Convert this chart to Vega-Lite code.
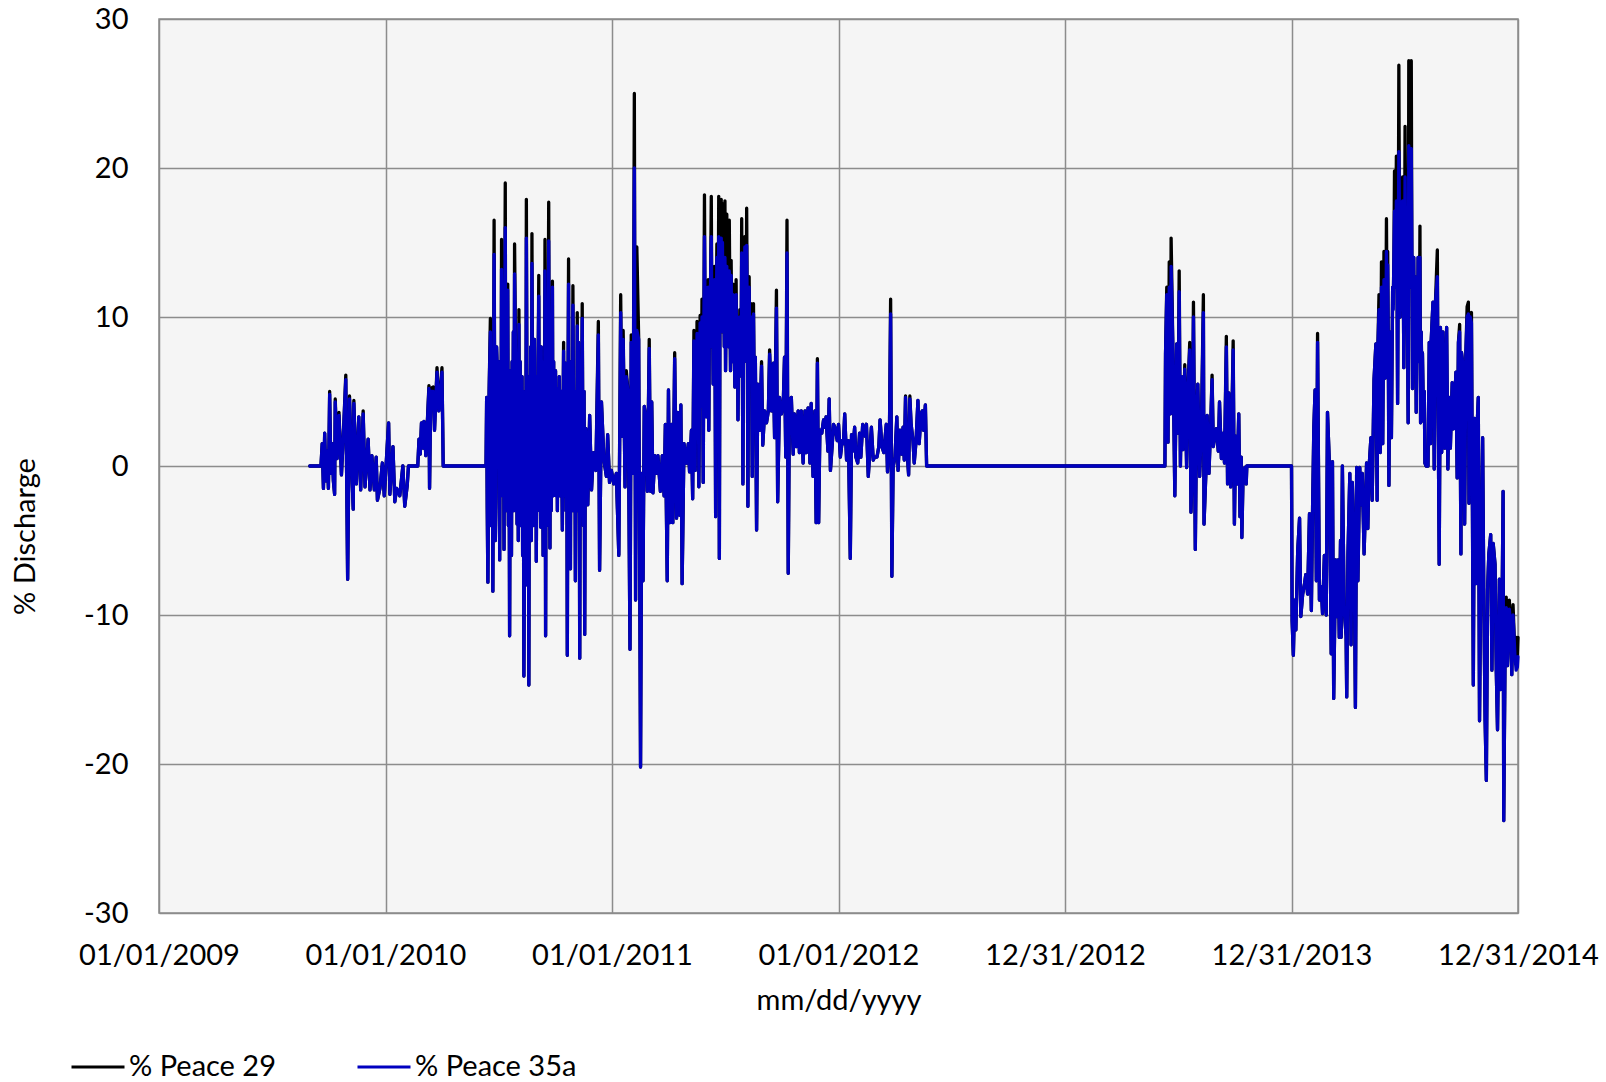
{
"$schema":"https://vega.github.io/schema/vega-lite/v6.json",
"width":1359,"height":894,
"autosize":{"type":"none"},
"padding":{"left":159,"top":19,"right":88,"bottom":169},
"background":"white",
"config":{
"view":{"fill":"#F5F5F5","stroke":"#8C8C8C","strokeWidth":1.5},
"axis":{"labelFont":"Lato","titleFont":"Lato","labelFontSize":29,"titleFontSize":29,"labelColor":"#000000","titleColor":"#000000","titleFontWeight":"normal","gridColor":"#8C8C8C","gridWidth":1.5,"gridOpacity":1,"domain":false,"ticks":false,"tickSize":0,"labelFlush":false,"labelOverlap":false,"labelBound":false},
"legend":{"labelFont":"Lato","labelFontSize":29,"labelColor":"#000000","labelLimit":0}
},
"data":{"values":[
{"date":"2009-09-01","p29":0,"p35a":0},
{"date":"2009-09-19","p29":0,"p35a":0},
{"date":"2009-09-21","p29":1.5,"p35a":1.5},
{"date":"2009-09-23","p29":-1.5,"p35a":-1.5},
{"date":"2009-09-25","p29":2.2,"p35a":2.2},
{"date":"2009-09-27","p29":-1.0,"p35a":-1.0},
{"date":"2009-09-29","p29":1.0,"p35a":1.0},
{"date":"2009-10-01","p29":-1.5,"p35a":-1.5},
{"date":"2009-10-03","p29":5.0,"p35a":4.8},
{"date":"2009-10-05","p29":-0.5,"p35a":-0.5},
{"date":"2009-10-07","p29":1.5,"p35a":1.5},
{"date":"2009-10-09","p29":-1.0,"p35a":-1.0},
{"date":"2009-10-11","p29":-1.9,"p35a":-1.9},
{"date":"2009-10-12","p29":4.5,"p35a":4.3},
{"date":"2009-10-15","p29":0.5,"p35a":0.5},
{"date":"2009-10-18","p29":3.6,"p35a":3.4},
{"date":"2009-10-22","p29":-0.6,"p35a":-0.6},
{"date":"2009-10-25","p29":2.0,"p35a":2.0},
{"date":"2009-10-29","p29":6.1,"p35a":5.8},
{"date":"2009-10-30","p29":1.0,"p35a":1.0},
{"date":"2009-11-01","p29":-7.6,"p35a":-7.6},
{"date":"2009-11-04","p29":4.7,"p35a":4.5},
{"date":"2009-11-07","p29":0.5,"p35a":0.5},
{"date":"2009-11-10","p29":-2.9,"p35a":-2.9},
{"date":"2009-11-11","p29":4.4,"p35a":4.2},
{"date":"2009-11-15","p29":-1.2,"p35a":-1.2},
{"date":"2009-11-19","p29":3.3,"p35a":3.3},
{"date":"2009-11-22","p29":-1.6,"p35a":-1.6},
{"date":"2009-11-26","p29":3.7,"p35a":3.5},
{"date":"2009-11-29","p29":-1.4,"p35a":-1.4},
{"date":"2009-12-04","p29":1.8,"p35a":1.8},
{"date":"2009-12-07","p29":-1.6,"p35a":-1.6},
{"date":"2009-12-10","p29":0.7,"p35a":0.7},
{"date":"2009-12-14","p29":-1.6,"p35a":-1.6},
{"date":"2009-12-17","p29":0.6,"p35a":0.6},
{"date":"2009-12-19","p29":-2.3,"p35a":-2.3},
{"date":"2009-12-23","p29":-1.5,"p35a":-1.5},
{"date":"2009-12-27","p29":0.2,"p35a":0.2},
{"date":"2009-12-30","p29":-2.0,"p35a":-2.0},
{"date":"2010-01-06","p29":2.9,"p35a":2.9},
{"date":"2010-01-08","p29":-1.9,"p35a":-1.9},
{"date":"2010-01-13","p29":1.3,"p35a":1.3},
{"date":"2010-01-16","p29":-2.4,"p35a":-2.4},
{"date":"2010-01-19","p29":-1.5,"p35a":-1.5},
{"date":"2010-01-24","p29":-2.0,"p35a":-2.0},
{"date":"2010-01-29","p29":0.0,"p35a":0.0},
{"date":"2010-02-01","p29":-2.7,"p35a":-2.7},
{"date":"2010-02-05","p29":-1.3,"p35a":-1.3},
{"date":"2010-02-07","p29":0,"p35a":0},
{"date":"2010-02-22","p29":0,"p35a":0},
{"date":"2010-02-24","p29":1.8,"p35a":1.8},
{"date":"2010-02-26","p29":0.8,"p35a":0.8},
{"date":"2010-02-28","p29":2.9,"p35a":2.9},
{"date":"2010-03-03","p29":1.2,"p35a":1.2},
{"date":"2010-03-04","p29":3.0,"p35a":3.0},
{"date":"2010-03-07","p29":0.7,"p35a":0.7},
{"date":"2010-03-12","p29":5.4,"p35a":5.2},
{"date":"2010-03-13","p29":-1.5,"p35a":-1.5},
{"date":"2010-03-15","p29":5.2,"p35a":5.0},
{"date":"2010-03-19","p29":5.3,"p35a":5.0},
{"date":"2010-03-21","p29":2.4,"p35a":2.4},
{"date":"2010-03-25","p29":6.6,"p35a":6.3},
{"date":"2010-03-28","p29":3.7,"p35a":3.7},
{"date":"2010-04-02","p29":6.6,"p35a":6.3},
{"date":"2010-04-04","p29":0,"p35a":0},
{"date":"2010-06-12","p29":0,"p35a":0},
{"date":"2010-06-13","p29":4.6,"p35a":4.6},
{"date":"2010-06-14","p29":-3,"p35a":-3},
{"date":"2010-06-15","p29":-7.8,"p35a":-7.8},
{"date":"2010-06-17","p29":5,"p35a":5},
{"date":"2010-06-19","p29":9.9,"p35a":9.0},
{"date":"2010-06-20","p29":-4,"p35a":-4},
{"date":"2010-06-21","p29":2.0,"p35a":2.0},
{"date":"2010-06-22","p29":6,"p35a":6},
{"date":"2010-06-23","p29":-8.4,"p35a":-8.4},
{"date":"2010-06-24","p29":3,"p35a":3},
{"date":"2010-06-25","p29":16.5,"p35a":14.2},
{"date":"2010-06-26","p29":4,"p35a":4},
{"date":"2010-06-27","p29":-5,"p35a":-5},
{"date":"2010-06-28","p29":-2.0,"p35a":-2.0},
{"date":"2010-06-29","p29":8,"p35a":8},
{"date":"2010-06-30","p29":6.6,"p35a":6.6},
{"date":"2010-07-02","p29":3,"p35a":3},
{"date":"2010-07-03","p29":7,"p35a":7},
{"date":"2010-07-04","p29":-6.3,"p35a":-6.3},
{"date":"2010-07-05","p29":6,"p35a":6},
{"date":"2010-07-06","p29":-2,"p35a":-2},
{"date":"2010-07-07","p29":15.2,"p35a":13.2},
{"date":"2010-07-08","p29":5,"p35a":5},
{"date":"2010-07-09","p29":2.0,"p35a":2.0},
{"date":"2010-07-10","p29":8,"p35a":8},
{"date":"2010-07-11","p29":-5.6,"p35a":-5.6},
{"date":"2010-07-12","p29":9,"p35a":9},
{"date":"2010-07-13","p29":19.0,"p35a":16.0},
{"date":"2010-07-14","p29":-3,"p35a":-3},
{"date":"2010-07-15","p29":4.0,"p35a":4.0},
{"date":"2010-07-16","p29":8,"p35a":8},
{"date":"2010-07-17","p29":12.2,"p35a":11.8},
{"date":"2010-07-18","p29":-4,"p35a":-4},
{"date":"2010-07-19","p29":5,"p35a":5},
{"date":"2010-07-20","p29":-11.4,"p35a":-11.4},
{"date":"2010-07-21","p29":3,"p35a":3},
{"date":"2010-07-22","p29":6.4,"p35a":6.4},
{"date":"2010-07-23","p29":-6,"p35a":-6},
{"date":"2010-07-24","p29":7,"p35a":7},
{"date":"2010-07-25","p29":-2.0,"p35a":-2.0},
{"date":"2010-07-26","p29":9,"p35a":9},
{"date":"2010-07-27","p29":-3,"p35a":-3},
{"date":"2010-07-28","p29":14.9,"p35a":12.9},
{"date":"2010-07-30","p29":6,"p35a":6},
{"date":"2010-07-31","p29":2,"p35a":2},
{"date":"2010-08-01","p29":-3.9,"p35a":-3.9},
{"date":"2010-08-02","p29":7,"p35a":7},
{"date":"2010-08-03","p29":-5,"p35a":-5},
{"date":"2010-08-04","p29":10.5,"p35a":9.5},
{"date":"2010-08-05","p29":-2,"p35a":-2},
{"date":"2010-08-06","p29":7,"p35a":7},
{"date":"2010-08-07","p29":-4,"p35a":-4},
{"date":"2010-08-08","p29":3.2,"p35a":3.2},
{"date":"2010-08-09","p29":6,"p35a":6},
{"date":"2010-08-10","p29":-6,"p35a":-6},
{"date":"2010-08-11","p29":5,"p35a":5},
{"date":"2010-08-12","p29":-14.1,"p35a":-14.1},
{"date":"2010-08-13","p29":-5,"p35a":-5},
{"date":"2010-08-14","p29":2.0,"p35a":2.0},
{"date":"2010-08-15","p29":-6,"p35a":-6},
{"date":"2010-08-16","p29":17.9,"p35a":15.3},
{"date":"2010-08-17","p29":4,"p35a":4},
{"date":"2010-08-18","p29":-8,"p35a":-8},
{"date":"2010-08-19","p29":6,"p35a":6},
{"date":"2010-08-20","p29":-14.7,"p35a":-14.7},
{"date":"2010-08-21","p29":5,"p35a":5},
{"date":"2010-08-22","p29":-3,"p35a":-3},
{"date":"2010-08-23","p29":8,"p35a":8},
{"date":"2010-08-24","p29":-5,"p35a":-5},
{"date":"2010-08-25","p29":15.6,"p35a":13.6},
{"date":"2010-08-26","p29":3,"p35a":3},
{"date":"2010-08-27","p29":-4,"p35a":-4},
{"date":"2010-08-28","p29":6,"p35a":6},
{"date":"2010-08-29","p29":8.5,"p35a":8.5},
{"date":"2010-08-30","p29":-2,"p35a":-2},
{"date":"2010-08-31","p29":6,"p35a":6},
{"date":"2010-09-01","p29":-6.4,"p35a":-6.4},
{"date":"2010-09-02","p29":3,"p35a":3},
{"date":"2010-09-03","p29":-3,"p35a":-3},
{"date":"2010-09-04","p29":7,"p35a":7},
{"date":"2010-09-05","p29":12.8,"p35a":11.4},
{"date":"2010-09-06","p29":-2,"p35a":-2},
{"date":"2010-09-07","p29":6,"p35a":6},
{"date":"2010-09-08","p29":-4.1,"p35a":-4.1},
{"date":"2010-09-09","p29":8,"p35a":8},
{"date":"2010-09-10","p29":-3,"p35a":-3},
{"date":"2010-09-11","p29":4.6,"p35a":4.6},
{"date":"2010-09-12","p29":-6,"p35a":-6},
{"date":"2010-09-13","p29":7,"p35a":7},
{"date":"2010-09-14","p29":-2,"p35a":-2},
{"date":"2010-09-15","p29":15.2,"p35a":13.1},
{"date":"2010-09-16","p29":-11.4,"p35a":-11.4},
{"date":"2010-09-17","p29":6,"p35a":6},
{"date":"2010-09-18","p29":-4,"p35a":-4},
{"date":"2010-09-19","p29":2.0,"p35a":2.0},
{"date":"2010-09-20","p29":8,"p35a":8},
{"date":"2010-09-21","p29":17.7,"p35a":15.1},
{"date":"2010-09-22","p29":3,"p35a":3},
{"date":"2010-09-23","p29":-5.5,"p35a":-5.5},
{"date":"2010-09-24","p29":8,"p35a":8},
{"date":"2010-09-25","p29":-3,"p35a":-3},
{"date":"2010-09-26","p29":5,"p35a":5},
{"date":"2010-09-27","p29":12.4,"p35a":12.0},
{"date":"2010-09-28","p29":-2,"p35a":-2},
{"date":"2010-09-29","p29":7,"p35a":7},
{"date":"2010-09-30","p29":-1.4,"p35a":-1.4},
{"date":"2010-10-01","p29":2,"p35a":2},
{"date":"2010-10-02","p29":6.4,"p35a":6.4},
{"date":"2010-10-03","p29":-2,"p35a":-2},
{"date":"2010-10-04","p29":4,"p35a":4},
{"date":"2010-10-05","p29":-3,"p35a":-3},
{"date":"2010-10-06","p29":5.2,"p35a":5.2},
{"date":"2010-10-07","p29":1,"p35a":1},
{"date":"2010-10-08","p29":6,"p35a":6},
{"date":"2010-10-09","p29":-2,"p35a":-2},
{"date":"2010-10-10","p29":3.6,"p35a":3.6},
{"date":"2010-10-11","p29":5,"p35a":5},
{"date":"2010-10-12","p29":1,"p35a":1},
{"date":"2010-10-13","p29":-4.3,"p35a":-4.3},
{"date":"2010-10-14","p29":3,"p35a":3},
{"date":"2010-10-15","p29":8.3,"p35a":7.7},
{"date":"2010-10-16","p29":-2,"p35a":-2},
{"date":"2010-10-17","p29":4,"p35a":4},
{"date":"2010-10-18","p29":6.9,"p35a":6.9},
{"date":"2010-10-19","p29":-3,"p35a":-3},
{"date":"2010-10-20","p29":5,"p35a":5},
{"date":"2010-10-21","p29":-12.7,"p35a":-12.7},
{"date":"2010-10-22","p29":4,"p35a":4},
{"date":"2010-10-23","p29":13.9,"p35a":12.2},
{"date":"2010-10-24","p29":-2,"p35a":-2},
{"date":"2010-10-25","p29":6,"p35a":6},
{"date":"2010-10-26","p29":-6.9,"p35a":-6.9},
{"date":"2010-10-27","p29":7,"p35a":7},
{"date":"2010-10-28","p29":3.0,"p35a":3.0},
{"date":"2010-10-29","p29":-3,"p35a":-3},
{"date":"2010-10-30","p29":12.1,"p35a":10.8},
{"date":"2010-10-31","p29":4,"p35a":4},
{"date":"2010-11-01","p29":-2,"p35a":-2},
{"date":"2010-11-02","p29":5,"p35a":5},
{"date":"2010-11-03","p29":-7.7,"p35a":-7.7},
{"date":"2010-11-04","p29":2,"p35a":2},
{"date":"2010-11-05","p29":-3,"p35a":-3},
{"date":"2010-11-06","p29":10.3,"p35a":9.4},
{"date":"2010-11-07","p29":-2,"p35a":-2},
{"date":"2010-11-08","p29":8.3,"p35a":8.3},
{"date":"2010-11-09","p29":4,"p35a":4},
{"date":"2010-11-10","p29":-12.9,"p35a":-12.9},
{"date":"2010-11-11","p29":4,"p35a":4},
{"date":"2010-11-12","p29":-3,"p35a":-3},
{"date":"2010-11-13","p29":3,"p35a":3},
{"date":"2010-11-14","p29":10.9,"p35a":9.9},
{"date":"2010-11-15","p29":2,"p35a":2},
{"date":"2010-11-16","p29":-4,"p35a":-4},
{"date":"2010-11-17","p29":5,"p35a":5},
{"date":"2010-11-18","p29":-11.3,"p35a":-11.3},
{"date":"2010-11-19","p29":1,"p35a":1},
{"date":"2010-11-20","p29":2.5,"p35a":2.5},
{"date":"2010-11-23","p29":-2.6,"p35a":-2.6},
{"date":"2010-11-26","p29":3.4,"p35a":3.4},
{"date":"2010-11-29","p29":-1.6,"p35a":-1.6},
{"date":"2010-12-02","p29":0.9,"p35a":0.9},
{"date":"2010-12-06","p29":-0.3,"p35a":-0.3},
{"date":"2010-12-10","p29":9.7,"p35a":8.8},
{"date":"2010-12-12","p29":-7.0,"p35a":-7.0},
{"date":"2010-12-15","p29":4.3,"p35a":4.3},
{"date":"2010-12-19","p29":0.4,"p35a":0.4},
{"date":"2010-12-23","p29":-0.7,"p35a":-0.7},
{"date":"2010-12-25","p29":2.1,"p35a":2.1},
{"date":"2010-12-28","p29":-1.1,"p35a":-1.1},
{"date":"2010-12-31","p29":-0.3,"p35a":-0.3},
{"date":"2011-01-04","p29":-1.2,"p35a":-1.2},
{"date":"2011-01-08","p29":-0.5,"p35a":-0.5},
{"date":"2011-01-12","p29":-6.0,"p35a":-6.0},
{"date":"2011-01-15","p29":11.5,"p35a":10.3},
{"date":"2011-01-17","p29":2.0,"p35a":2.0},
{"date":"2011-01-19","p29":9.1,"p35a":8.5},
{"date":"2011-01-22","p29":-1.4,"p35a":-1.4},
{"date":"2011-01-24","p29":6.4,"p35a":6.0},
{"date":"2011-01-27","p29":4.9,"p35a":4.9},
{"date":"2011-01-30","p29":-12.3,"p35a":-12.3},
{"date":"2011-02-01","p29":8.8,"p35a":8.3},
{"date":"2011-02-04","p29":-0.5,"p35a":-0.5},
{"date":"2011-02-06","p29":25.0,"p35a":20.0},
{"date":"2011-02-08","p29":-9.0,"p35a":-9.0},
{"date":"2011-02-10","p29":14.7,"p35a":9.1},
{"date":"2011-02-13","p29":8.5,"p35a":8.5},
{"date":"2011-02-16","p29":-20.2,"p35a":-20.2},
{"date":"2011-02-18","p29":-0.5,"p35a":-0.5},
{"date":"2011-02-20","p29":-7.7,"p35a":-7.7},
{"date":"2011-02-22","p29":4.0,"p35a":4.0},
{"date":"2011-02-25","p29":3.1,"p35a":3.1},
{"date":"2011-02-27","p29":-1.7,"p35a":-1.7},
{"date":"2011-03-02","p29":8.5,"p35a":7.9},
{"date":"2011-03-04","p29":-1.7,"p35a":-1.7},
{"date":"2011-03-06","p29":4.3,"p35a":4.3},
{"date":"2011-03-08","p29":-1.8,"p35a":-1.8},
{"date":"2011-03-11","p29":0.7,"p35a":0.7},
{"date":"2011-03-14","p29":-0.5,"p35a":-0.5},
{"date":"2011-03-16","p29":0.7,"p35a":0.7},
{"date":"2011-03-20","p29":-1.7,"p35a":-1.7},
{"date":"2011-03-23","p29":0.7,"p35a":0.7},
{"date":"2011-03-26","p29":-2.0,"p35a":-2.0},
{"date":"2011-03-28","p29":2.8,"p35a":2.8},
{"date":"2011-03-31","p29":-7.7,"p35a":-7.7},
{"date":"2011-04-02","p29":5.1,"p35a":5.1},
{"date":"2011-04-04","p29":-3.8,"p35a":-3.8},
{"date":"2011-04-07","p29":2.8,"p35a":2.8},
{"date":"2011-04-09","p29":-3.8,"p35a":-3.8},
{"date":"2011-04-12","p29":7.6,"p35a":7.2},
{"date":"2011-04-15","p29":-3.5,"p35a":-3.5},
{"date":"2011-04-17","p29":3.6,"p35a":3.6},
{"date":"2011-04-20","p29":-3.3,"p35a":-3.3},
{"date":"2011-04-22","p29":4.1,"p35a":4.1},
{"date":"2011-04-24","p29":-7.9,"p35a":-7.9},
{"date":"2011-04-27","p29":1.5,"p35a":1.5},
{"date":"2011-05-01","p29":0.2,"p35a":0.2},
{"date":"2011-05-04","p29":1.5,"p35a":1.5},
{"date":"2011-05-06","p29":-0.4,"p35a":-0.4},
{"date":"2011-05-09","p29":2.4,"p35a":2.4},
{"date":"2011-05-11","p29":-2.2,"p35a":-2.2},
{"date":"2011-05-13","p29":9.1,"p35a":8.4},
{"date":"2011-05-14","p29":5,"p35a":5},
{"date":"2011-05-15","p29":-0.3,"p35a":-0.3},
{"date":"2011-05-16","p29":7,"p35a":7},
{"date":"2011-05-17","p29":3,"p35a":3},
{"date":"2011-05-18","p29":9.7,"p35a":8.9},
{"date":"2011-05-19","p29":6,"p35a":6},
{"date":"2011-05-20","p29":8,"p35a":8},
{"date":"2011-05-21","p29":-1.4,"p35a":-1.4},
{"date":"2011-05-22","p29":5,"p35a":5},
{"date":"2011-05-23","p29":10.1,"p35a":9.6},
{"date":"2011-05-24","p29":7,"p35a":7},
{"date":"2011-05-25","p29":4,"p35a":4},
{"date":"2011-05-26","p29":11.2,"p35a":10.0},
{"date":"2011-05-27","p29":8,"p35a":8},
{"date":"2011-05-28","p29":-1.1,"p35a":-1.1},
{"date":"2011-05-29","p29":9,"p35a":9},
{"date":"2011-05-30","p29":18.2,"p35a":15.4},
{"date":"2011-05-31","p29":10,"p35a":10},
{"date":"2011-06-01","p29":12,"p35a":12},
{"date":"2011-06-02","p29":3.3,"p35a":3.3},
{"date":"2011-06-03","p29":9,"p35a":9},
{"date":"2011-06-04","p29":7,"p35a":7},
{"date":"2011-06-05","p29":12.5,"p35a":12.0},
{"date":"2011-06-06","p29":2.4,"p35a":2.4},
{"date":"2011-06-07","p29":10,"p35a":10},
{"date":"2011-06-08","p29":8,"p35a":8},
{"date":"2011-06-09","p29":13,"p35a":13},
{"date":"2011-06-10","p29":18.1,"p35a":15.4},
{"date":"2011-06-11","p29":9,"p35a":9},
{"date":"2011-06-12","p29":12,"p35a":12},
{"date":"2011-06-13","p29":5.5,"p35a":5.5},
{"date":"2011-06-14","p29":9,"p35a":9},
{"date":"2011-06-15","p29":13.4,"p35a":12.5},
{"date":"2011-06-16","p29":8,"p35a":8},
{"date":"2011-06-17","p29":-3.4,"p35a":-3.4},
{"date":"2011-06-18","p29":10,"p35a":10},
{"date":"2011-06-19","p29":14.9,"p35a":14.0},
{"date":"2011-06-20","p29":11,"p35a":11},
{"date":"2011-06-21","p29":9,"p35a":9},
{"date":"2011-06-22","p29":18.1,"p35a":15.4},
{"date":"2011-06-23","p29":-6.2,"p35a":-6.2},
{"date":"2011-06-24","p29":11,"p35a":11},
{"date":"2011-06-25","p29":9,"p35a":9},
{"date":"2011-06-26","p29":17.9,"p35a":15.3},
{"date":"2011-06-27","p29":10,"p35a":10},
{"date":"2011-06-28","p29":17.6,"p35a":15.0},
{"date":"2011-06-29","p29":9,"p35a":9},
{"date":"2011-06-30","p29":12,"p35a":12},
{"date":"2011-07-01","p29":8,"p35a":8},
{"date":"2011-07-02","p29":17.8,"p35a":14.0},
{"date":"2011-07-03","p29":6.4,"p35a":6.4},
{"date":"2011-07-04","p29":11,"p35a":11},
{"date":"2011-07-05","p29":16.9,"p35a":13.4},
{"date":"2011-07-06","p29":9,"p35a":9},
{"date":"2011-07-07","p29":12,"p35a":12},
{"date":"2011-07-08","p29":8,"p35a":8},
{"date":"2011-07-09","p29":16.5,"p35a":13.1},
{"date":"2011-07-10","p29":11,"p35a":11},
{"date":"2011-07-11","p29":6.4,"p35a":6.4},
{"date":"2011-07-12","p29":13.8,"p35a":12.8},
{"date":"2011-07-13","p29":9,"p35a":9},
{"date":"2011-07-14","p29":7,"p35a":7},
{"date":"2011-07-15","p29":12.2,"p35a":11.5},
{"date":"2011-07-16","p29":10,"p35a":10},
{"date":"2011-07-17","p29":8,"p35a":8},
{"date":"2011-07-18","p29":5.3,"p35a":5.3},
{"date":"2011-07-19","p29":9,"p35a":9},
{"date":"2011-07-20","p29":12.5,"p35a":11.5},
{"date":"2011-07-21","p29":7,"p35a":7},
{"date":"2011-07-22","p29":10,"p35a":10},
{"date":"2011-07-23","p29":3.1,"p35a":3.1},
{"date":"2011-07-24","p29":8,"p35a":8},
{"date":"2011-07-25","p29":6,"p35a":6},
{"date":"2011-07-26","p29":10.5,"p35a":10.0},
{"date":"2011-07-27","p29":9,"p35a":9},
{"date":"2011-07-28","p29":7,"p35a":7},
{"date":"2011-07-29","p29":16.6,"p35a":14.3},
{"date":"2011-07-30","p29":8,"p35a":8},
{"date":"2011-07-31","p29":-1.2,"p35a":-1.2},
{"date":"2011-08-01","p29":10,"p35a":10},
{"date":"2011-08-02","p29":7,"p35a":7},
{"date":"2011-08-03","p29":15.4,"p35a":14.7},
{"date":"2011-08-04","p29":9,"p35a":9},
{"date":"2011-08-05","p29":8,"p35a":8},
{"date":"2011-08-06","p29":17.3,"p35a":14.8},
{"date":"2011-08-07","p29":10,"p35a":10},
{"date":"2011-08-08","p29":-2.7,"p35a":-2.7},
{"date":"2011-08-09","p29":7,"p35a":7},
{"date":"2011-08-10","p29":12.7,"p35a":12.0},
{"date":"2011-08-11","p29":8,"p35a":8},
{"date":"2011-08-12","p29":6,"p35a":6},
{"date":"2011-08-13","p29":10.9,"p35a":10.0},
{"date":"2011-08-14","p29":7,"p35a":7},
{"date":"2011-08-15","p29":-0.7,"p35a":-0.7},
{"date":"2011-08-16","p29":5,"p35a":5},
{"date":"2011-08-17","p29":10.9,"p35a":10.2},
{"date":"2011-08-18","p29":6,"p35a":6},
{"date":"2011-08-19","p29":4,"p35a":4},
{"date":"2011-08-20","p29":7.3,"p35a":7.3},
{"date":"2011-08-22","p29":-4.3,"p35a":-4.3},
{"date":"2011-08-24","p29":5.5,"p35a":5.5},
{"date":"2011-08-27","p29":2.4,"p35a":2.4},
{"date":"2011-08-30","p29":7.0,"p35a":6.7},
{"date":"2011-09-01","p29":1.4,"p35a":1.4},
{"date":"2011-09-04","p29":3.7,"p35a":3.7},
{"date":"2011-09-07","p29":2.9,"p35a":2.9},
{"date":"2011-09-10","p29":3.7,"p35a":3.7},
{"date":"2011-09-12","p29":7.8,"p35a":7.5},
{"date":"2011-09-15","p29":3.7,"p35a":3.7},
{"date":"2011-09-18","p29":6.9,"p35a":6.9},
{"date":"2011-09-20","p29":1.9,"p35a":1.9},
{"date":"2011-09-23","p29":11.8,"p35a":10.6},
{"date":"2011-09-25","p29":-2.4,"p35a":-2.4},
{"date":"2011-09-28","p29":4.6,"p35a":4.6},
{"date":"2011-10-01","p29":3.5,"p35a":3.5},
{"date":"2011-10-04","p29":4.2,"p35a":4.2},
{"date":"2011-10-06","p29":7.3,"p35a":7.3},
{"date":"2011-10-08","p29":0.6,"p35a":0.6},
{"date":"2011-10-10","p29":16.5,"p35a":14.3},
{"date":"2011-10-12","p29":-7.2,"p35a":-7.2},
{"date":"2011-10-14","p29":4.4,"p35a":4.4},
{"date":"2011-10-17","p29":4.6,"p35a":4.6},
{"date":"2011-10-20","p29":0.8,"p35a":0.8},
{"date":"2011-10-22","p29":3.5,"p35a":3.5},
{"date":"2011-10-25","p29":1.3,"p35a":1.3},
{"date":"2011-10-28","p29":3.7,"p35a":3.7},
{"date":"2011-10-30","p29":0.9,"p35a":0.9},
{"date":"2011-11-02","p29":3.7,"p35a":3.7},
{"date":"2011-11-05","p29":0.2,"p35a":0.2},
{"date":"2011-11-08","p29":3.7,"p35a":3.7},
{"date":"2011-11-10","p29":0.9,"p35a":0.9},
{"date":"2011-11-13","p29":3.9,"p35a":3.9},
{"date":"2011-11-16","p29":0.2,"p35a":0.2},
{"date":"2011-11-18","p29":4.2,"p35a":4.2},
{"date":"2011-11-21","p29":-0.7,"p35a":-0.7},
{"date":"2011-11-24","p29":3.7,"p35a":3.7},
{"date":"2011-11-26","p29":-3.8,"p35a":-3.8},
{"date":"2011-11-28","p29":7.2,"p35a":6.9},
{"date":"2011-11-30","p29":-3.8,"p35a":-3.8},
{"date":"2011-12-02","p29":2.4,"p35a":2.4},
{"date":"2011-12-05","p29":2.2,"p35a":2.2},
{"date":"2011-12-08","p29":3.1,"p35a":3.1},
{"date":"2011-12-10","p29":2.6,"p35a":2.6},
{"date":"2011-12-12","p29":3.3,"p35a":3.3},
{"date":"2011-12-15","p29":1.0,"p35a":1.0},
{"date":"2011-12-17","p29":4.5,"p35a":4.5},
{"date":"2011-12-19","p29":-0.3,"p35a":-0.3},
{"date":"2011-12-22","p29":1.5,"p35a":1.5},
{"date":"2011-12-24","p29":2.8,"p35a":2.8},
{"date":"2011-12-27","p29":2.5,"p35a":2.5},
{"date":"2011-12-30","p29":1.7,"p35a":1.7},
{"date":"2012-01-01","p29":2.8,"p35a":2.8},
{"date":"2012-01-04","p29":0.6,"p35a":0.6},
{"date":"2012-01-07","p29":1.7,"p35a":1.7},
{"date":"2012-01-09","p29":1.5,"p35a":1.5},
{"date":"2012-01-11","p29":3.5,"p35a":3.5},
{"date":"2012-01-14","p29":0.4,"p35a":0.4},
{"date":"2012-01-17","p29":1.7,"p35a":1.7},
{"date":"2012-01-20","p29":-6.2,"p35a":-6.2},
{"date":"2012-01-22","p29":2.1,"p35a":2.1},
{"date":"2012-01-24","p29":1.0,"p35a":1.0},
{"date":"2012-01-27","p29":2.6,"p35a":2.6},
{"date":"2012-01-29","p29":0.6,"p35a":0.6},
{"date":"2012-02-01","p29":0.2,"p35a":0.2},
{"date":"2012-02-04","p29":2.2,"p35a":2.2},
{"date":"2012-02-06","p29":0.6,"p35a":0.6},
{"date":"2012-02-09","p29":2.8,"p35a":2.8},
{"date":"2012-02-13","p29":2.0,"p35a":2.0},
{"date":"2012-02-15","p29":2.8,"p35a":2.8},
{"date":"2012-02-18","p29":-0.7,"p35a":-0.7},
{"date":"2012-02-21","p29":1.3,"p35a":1.3},
{"date":"2012-02-23","p29":2.6,"p35a":2.6},
{"date":"2012-02-26","p29":0.4,"p35a":0.4},
{"date":"2012-02-28","p29":0.6,"p35a":0.6},
{"date":"2012-03-03","p29":0.6,"p35a":0.6},
{"date":"2012-03-06","p29":1.3,"p35a":1.3},
{"date":"2012-03-08","p29":3.1,"p35a":3.1},
{"date":"2012-03-11","p29":1.3,"p35a":1.3},
{"date":"2012-03-14","p29":0.9,"p35a":0.9},
{"date":"2012-03-18","p29":2.8,"p35a":2.8},
{"date":"2012-03-20","p29":-0.4,"p35a":-0.4},
{"date":"2012-03-23","p29":1.8,"p35a":1.8},
{"date":"2012-03-25","p29":11.2,"p35a":10.2},
{"date":"2012-03-27","p29":-7.4,"p35a":-7.4},
{"date":"2012-03-29","p29":-0.1,"p35a":-0.1},
{"date":"2012-04-01","p29":0.6,"p35a":0.6},
{"date":"2012-04-04","p29":3.3,"p35a":3.3},
{"date":"2012-04-06","p29":-0.3,"p35a":-0.3},
{"date":"2012-04-09","p29":2.4,"p35a":2.4},
{"date":"2012-04-12","p29":0.8,"p35a":0.8},
{"date":"2012-04-14","p29":2.6,"p35a":2.6},
{"date":"2012-04-16","p29":0.4,"p35a":0.4},
{"date":"2012-04-18","p29":4.7,"p35a":4.6},
{"date":"2012-04-20","p29":1.3,"p35a":1.3},
{"date":"2012-04-23","p29":-0.6,"p35a":-0.6},
{"date":"2012-04-25","p29":4.7,"p35a":4.5},
{"date":"2012-04-27","p29":2.8,"p35a":2.8},
{"date":"2012-04-30","p29":1.7,"p35a":1.7},
{"date":"2012-05-02","p29":0.2,"p35a":0.2},
{"date":"2012-05-05","p29":1.7,"p35a":1.7},
{"date":"2012-05-08","p29":4.4,"p35a":4.4},
{"date":"2012-05-10","p29":1.5,"p35a":1.5},
{"date":"2012-05-13","p29":3.5,"p35a":3.5},
{"date":"2012-05-15","p29":3.7,"p35a":3.7},
{"date":"2012-05-17","p29":2.4,"p35a":2.4},
{"date":"2012-05-20","p29":4.1,"p35a":4.1},
{"date":"2012-05-22","p29":0,"p35a":0},
{"date":"2013-06-10","p29":0,"p35a":0},
{"date":"2013-06-11","p29":7.5,"p35a":7.5},
{"date":"2013-06-13","p29":12.0,"p35a":11.5},
{"date":"2013-06-15","p29":1.6,"p35a":1.6},
{"date":"2013-06-17","p29":13.7,"p35a":12.0},
{"date":"2013-06-19","p29":3.5,"p35a":3.5},
{"date":"2013-06-20","p29":15.3,"p35a":13.4},
{"date":"2013-06-23","p29":7.5,"p35a":7.5},
{"date":"2013-06-26","p29":-2.0,"p35a":-2.0},
{"date":"2013-06-29","p29":8.2,"p35a":8.2},
{"date":"2013-07-01","p29":2.2,"p35a":2.2},
{"date":"2013-07-03","p29":13.1,"p35a":11.7},
{"date":"2013-07-05","p29":0.0,"p35a":0.0},
{"date":"2013-07-07","p29":6.0,"p35a":6.0},
{"date":"2013-07-09","p29":1.1,"p35a":1.1},
{"date":"2013-07-12","p29":6.8,"p35a":6.5},
{"date":"2013-07-15","p29":-0.1,"p35a":-0.1},
{"date":"2013-07-17","p29":4.9,"p35a":4.9},
{"date":"2013-07-20","p29":8.3,"p35a":7.8},
{"date":"2013-07-22","p29":-3.1,"p35a":-3.1},
{"date":"2013-07-24","p29":-0.1,"p35a":-0.1},
{"date":"2013-07-26","p29":11.0,"p35a":10.0},
{"date":"2013-07-29","p29":-5.6,"p35a":-5.6},
{"date":"2013-07-31","p29":3.1,"p35a":3.1},
{"date":"2013-08-02","p29":5.5,"p35a":5.5},
{"date":"2013-08-05","p29":-0.7,"p35a":-0.7},
{"date":"2013-08-08","p29":3.1,"p35a":3.1},
{"date":"2013-08-11","p29":11.5,"p35a":10.3},
{"date":"2013-08-12","p29":-3.9,"p35a":-3.9},
{"date":"2013-08-15","p29":-0.5,"p35a":-0.5},
{"date":"2013-08-17","p29":3.4,"p35a":3.4},
{"date":"2013-08-20","p29":-0.5,"p35a":-0.5},
{"date":"2013-08-23","p29":3.1,"p35a":3.1},
{"date":"2013-08-25","p29":6.1,"p35a":5.8},
{"date":"2013-08-27","p29":1.3,"p35a":1.3},
{"date":"2013-08-30","p29":2.2,"p35a":2.2},
{"date":"2013-09-01","p29":2.5,"p35a":2.5},
{"date":"2013-09-04","p29":1.0,"p35a":1.0},
{"date":"2013-09-06","p29":4.3,"p35a":4.3},
{"date":"2013-09-09","p29":0.5,"p35a":0.5},
{"date":"2013-09-12","p29":2.2,"p35a":2.2},
{"date":"2013-09-14","p29":0.2,"p35a":0.2},
{"date":"2013-09-17","p29":8.7,"p35a":8.0},
{"date":"2013-09-19","p29":-1.2,"p35a":-1.2},
{"date":"2013-09-21","p29":4.9,"p35a":4.9},
{"date":"2013-09-24","p29":-1.4,"p35a":-1.4},
{"date":"2013-09-28","p29":8.4,"p35a":7.8},
{"date":"2013-09-30","p29":-3.9,"p35a":-3.9},
{"date":"2013-10-02","p29":2.0,"p35a":2.0},
{"date":"2013-10-04","p29":-1.2,"p35a":-1.2},
{"date":"2013-10-07","p29":3.5,"p35a":3.5},
{"date":"2013-10-09","p29":-3.4,"p35a":-3.4},
{"date":"2013-10-11","p29":0.6,"p35a":0.6},
{"date":"2013-10-12","p29":-4.8,"p35a":-4.8},
{"date":"2013-10-14","p29":-0.5,"p35a":-0.5},
{"date":"2013-10-17","p29":-0.1,"p35a":-0.1},
{"date":"2013-10-19","p29":-1.2,"p35a":-1.2},
{"date":"2013-10-20","p29":0,"p35a":0},
{"date":"2013-12-31","p29":0,"p35a":0},
{"date":"2014-01-01","p29":-10.4,"p35a":-10.4},
{"date":"2014-01-03","p29":-12.7,"p35a":-12.7},
{"date":"2014-01-05","p29":-9.0,"p35a":-9.0},
{"date":"2014-01-07","p29":-11.0,"p35a":-11.0},
{"date":"2014-01-10","p29":-5.7,"p35a":-5.7},
{"date":"2014-01-13","p29":-3.5,"p35a":-3.5},
{"date":"2014-01-15","p29":-10.1,"p35a":-10.1},
{"date":"2014-01-18","p29":-8.6,"p35a":-8.6},
{"date":"2014-01-21","p29":-7.9,"p35a":-7.9},
{"date":"2014-01-23","p29":-7.3,"p35a":-7.3},
{"date":"2014-01-26","p29":-8.6,"p35a":-8.6},
{"date":"2014-01-29","p29":-3.2,"p35a":-3.2},
{"date":"2014-02-01","p29":-9.7,"p35a":-9.7},
{"date":"2014-02-03","p29":-2.8,"p35a":-2.8},
{"date":"2014-02-05","p29":2.6,"p35a":2.6},
{"date":"2014-02-07","p29":5.1,"p35a":5.1},
{"date":"2014-02-09","p29":-7.7,"p35a":-7.7},
{"date":"2014-02-11","p29":8.9,"p35a":8.3},
{"date":"2014-02-14","p29":-9.0,"p35a":-9.0},
{"date":"2014-02-17","p29":-8.1,"p35a":-8.1},
{"date":"2014-02-19","p29":-9.9,"p35a":-9.9},
{"date":"2014-02-22","p29":-6.0,"p35a":-6.0},
{"date":"2014-02-25","p29":-10.0,"p35a":-10.0},
{"date":"2014-02-27","p29":3.6,"p35a":3.6},
{"date":"2014-03-02","p29":0.2,"p35a":0.2},
{"date":"2014-03-05","p29":-12.6,"p35a":-12.6},
{"date":"2014-03-07","p29":0.3,"p35a":0.3},
{"date":"2014-03-09","p29":-15.6,"p35a":-15.6},
{"date":"2014-03-12","p29":-6.3,"p35a":-6.3},
{"date":"2014-03-14","p29":-10.1,"p35a":-10.1},
{"date":"2014-03-16","p29":-6.3,"p35a":-6.3},
{"date":"2014-03-18","p29":-11.5,"p35a":-11.5},
{"date":"2014-03-20","p29":-5.0,"p35a":-5.0},
{"date":"2014-03-21","p29":-11.5,"p35a":-11.5},
{"date":"2014-03-23","p29":0.0,"p35a":0.0},
{"date":"2014-03-26","p29":-9.7,"p35a":-9.7},
{"date":"2014-03-29","p29":-11.4,"p35a":-11.4},
{"date":"2014-03-30","p29":-15.5,"p35a":-15.5},
{"date":"2014-04-01","p29":-5.9,"p35a":-5.9},
{"date":"2014-04-04","p29":-0.5,"p35a":-0.5},
{"date":"2014-04-06","p29":-12.0,"p35a":-12.0},
{"date":"2014-04-08","p29":-1.1,"p35a":-1.1},
{"date":"2014-04-11","p29":-5.7,"p35a":-5.7},
{"date":"2014-04-13","p29":-16.2,"p35a":-16.2},
{"date":"2014-04-15","p29":-0.1,"p35a":-0.1},
{"date":"2014-04-17","p29":-7.7,"p35a":-7.7},
{"date":"2014-04-20","p29":-0.1,"p35a":-0.1},
{"date":"2014-04-22","p29":-2.6,"p35a":-2.6},
{"date":"2014-04-24","p29":-0.5,"p35a":-0.5},
{"date":"2014-04-27","p29":-5.9,"p35a":-5.9},
{"date":"2014-05-01","p29":0.2,"p35a":0.2},
{"date":"2014-05-03","p29":-4.2,"p35a":-4.2},
{"date":"2014-05-05","p29":-0.1,"p35a":-0.1},
{"date":"2014-05-08","p29":1.9,"p35a":1.9},
{"date":"2014-05-10","p29":-2.3,"p35a":-2.3},
{"date":"2014-05-13","p29":5.8,"p35a":5.8},
{"date":"2014-05-16","p29":8.2,"p35a":8.2},
{"date":"2014-05-18","p29":-2.3,"p35a":-2.3},
{"date":"2014-05-19","p29":7.6,"p35a":7.6},
{"date":"2014-05-21","p29":11.5,"p35a":10.5},
{"date":"2014-05-23","p29":0.9,"p35a":0.9},
{"date":"2014-05-25","p29":13.7,"p35a":12.0},
{"date":"2014-05-27","p29":1.5,"p35a":1.5},
{"date":"2014-05-29","p29":14.4,"p35a":12.5},
{"date":"2014-05-31","p29":5.9,"p35a":5.9},
{"date":"2014-06-01","p29":9,"p35a":9},
{"date":"2014-06-02","p29":16.6,"p35a":14.4},
{"date":"2014-06-03","p29":10,"p35a":10},
{"date":"2014-06-04","p29":14.4,"p35a":13.5},
{"date":"2014-06-05","p29":8,"p35a":8},
{"date":"2014-06-06","p29":-1.3,"p35a":-1.3},
{"date":"2014-06-07","p29":4.6,"p35a":4.6},
{"date":"2014-06-08","p29":6,"p35a":6},
{"date":"2014-06-09","p29":9,"p35a":9},
{"date":"2014-06-10","p29":1.9,"p35a":1.9},
{"date":"2014-06-11","p29":7,"p35a":7},
{"date":"2014-06-12","p29":12,"p35a":12},
{"date":"2014-06-13","p29":11.0,"p35a":10.5},
{"date":"2014-06-14","p29":14,"p35a":14},
{"date":"2014-06-15","p29":19.8,"p35a":17.1},
{"date":"2014-06-16","p29":12,"p35a":12},
{"date":"2014-06-17","p29":15,"p35a":15},
{"date":"2014-06-18","p29":20.8,"p35a":17.8},
{"date":"2014-06-19","p29":13,"p35a":13},
{"date":"2014-06-20","p29":4.2,"p35a":4.2},
{"date":"2014-06-21","p29":14,"p35a":14},
{"date":"2014-06-22","p29":26.9,"p35a":21.1},
{"date":"2014-06-23","p29":16,"p35a":16},
{"date":"2014-06-24","p29":10.0,"p35a":10.0},
{"date":"2014-06-25","p29":13,"p35a":13},
{"date":"2014-06-26","p29":15,"p35a":15},
{"date":"2014-06-27","p29":11,"p35a":11},
{"date":"2014-06-28","p29":19.4,"p35a":17.8},
{"date":"2014-06-29","p29":14,"p35a":14},
{"date":"2014-06-30","p29":6.6,"p35a":6.6},
{"date":"2014-07-01","p29":12,"p35a":12},
{"date":"2014-07-02","p29":22.8,"p35a":19.4},
{"date":"2014-07-03","p29":15,"p35a":15},
{"date":"2014-07-04","p29":11.7,"p35a":11.7},
{"date":"2014-07-05","p29":13,"p35a":13},
{"date":"2014-07-06","p29":9,"p35a":9},
{"date":"2014-07-07","p29":2.9,"p35a":2.9},
{"date":"2014-07-08","p29":27.2,"p35a":21.5},
{"date":"2014-07-09","p29":15,"p35a":15},
{"date":"2014-07-10","p29":12,"p35a":12},
{"date":"2014-07-11","p29":22.2,"p35a":21.0},
{"date":"2014-07-12","p29":27.2,"p35a":21.3},
{"date":"2014-07-13","p29":14,"p35a":14},
{"date":"2014-07-14","p29":5.2,"p35a":5.2},
{"date":"2014-07-15","p29":9,"p35a":9},
{"date":"2014-07-16","p29":14.0,"p35a":14.0},
{"date":"2014-07-17","p29":8,"p35a":8},
{"date":"2014-07-18","p29":12.7,"p35a":12.7},
{"date":"2014-07-19","p29":10,"p35a":10},
{"date":"2014-07-20","p29":3.6,"p35a":3.6},
{"date":"2014-07-21","p29":9,"p35a":9},
{"date":"2014-07-22","p29":7,"p35a":7},
{"date":"2014-07-23","p29":14.0,"p35a":14.0},
{"date":"2014-07-24","p29":10,"p35a":10},
{"date":"2014-07-25","p29":8,"p35a":8},
{"date":"2014-07-26","p29":16.1,"p35a":14.0},
{"date":"2014-07-27","p29":2.9,"p35a":2.9},
{"date":"2014-07-28","p29":9,"p35a":9},
{"date":"2014-07-29","p29":6,"p35a":6},
{"date":"2014-07-30","p29":7.6,"p35a":7.6},
{"date":"2014-07-31","p29":5,"p35a":5},
{"date":"2014-08-01","p29":3,"p35a":3},
{"date":"2014-08-02","p29":5,"p35a":5},
{"date":"2014-08-03","p29":0.2,"p35a":0.2},
{"date":"2014-08-05","p29":0.0,"p35a":0.0},
{"date":"2014-08-08","p29":0.0,"p35a":0.0},
{"date":"2014-08-10","p29":8.3,"p35a":8.3},
{"date":"2014-08-12","p29":1.5,"p35a":1.5},
{"date":"2014-08-13","p29":8.3,"p35a":8.3},
{"date":"2014-08-16","p29":11.0,"p35a":11.0},
{"date":"2014-08-18","p29":-0.2,"p35a":-0.2},
{"date":"2014-08-20","p29":11.0,"p35a":11.0},
{"date":"2014-08-23","p29":14.5,"p35a":12.7},
{"date":"2014-08-24","p29":5.9,"p35a":5.9},
{"date":"2014-08-26","p29":-6.6,"p35a":-6.6},
{"date":"2014-08-28","p29":9.3,"p35a":9.3},
{"date":"2014-08-30","p29":0.9,"p35a":0.9},
{"date":"2014-09-01","p29":9.0,"p35a":9.0},
{"date":"2014-09-04","p29":1.2,"p35a":1.2},
{"date":"2014-09-07","p29":9.3,"p35a":9.3},
{"date":"2014-09-09","p29":-0.2,"p35a":-0.2},
{"date":"2014-09-11","p29":4.6,"p35a":4.6},
{"date":"2014-09-13","p29":1.2,"p35a":1.2},
{"date":"2014-09-16","p29":5.6,"p35a":5.6},
{"date":"2014-09-18","p29":2.5,"p35a":2.5},
{"date":"2014-09-22","p29":6.3,"p35a":6.3},
{"date":"2014-09-24","p29":-0.8,"p35a":-0.8},
{"date":"2014-09-26","p29":8.3,"p35a":8.3},
{"date":"2014-09-28","p29":9.5,"p35a":9.0},
{"date":"2014-09-30","p29":-5.9,"p35a":-5.9},
{"date":"2014-10-01","p29":7.6,"p35a":7.6},
{"date":"2014-10-03","p29":6.9,"p35a":6.9},
{"date":"2014-10-06","p29":-3.9,"p35a":-3.9},
{"date":"2014-10-08","p29":7.6,"p35a":7.6},
{"date":"2014-10-10","p29":10.7,"p35a":10.0},
{"date":"2014-10-12","p29":11.0,"p35a":10.2},
{"date":"2014-10-13","p29":-2.5,"p35a":-2.5},
{"date":"2014-10-15","p29":10.0,"p35a":10.0},
{"date":"2014-10-17","p29":10.3,"p35a":9.6},
{"date":"2014-10-20","p29":-14.7,"p35a":-14.7},
{"date":"2014-10-22","p29":3.2,"p35a":3.2},
{"date":"2014-10-24","p29":-7.9,"p35a":-7.9},
{"date":"2014-10-26","p29":2.5,"p35a":2.5},
{"date":"2014-10-28","p29":4.6,"p35a":4.6},
{"date":"2014-10-30","p29":-17.1,"p35a":-17.1},
{"date":"2014-11-01","p29":-7.6,"p35a":-7.6},
{"date":"2014-11-04","p29":1.9,"p35a":1.9},
{"date":"2014-11-06","p29":-9.3,"p35a":-9.3},
{"date":"2014-11-08","p29":-17.1,"p35a":-17.1},
{"date":"2014-11-10","p29":-21.1,"p35a":-21.1},
{"date":"2014-11-12","p29":-8.3,"p35a":-8.3},
{"date":"2014-11-14","p29":-5.9,"p35a":-5.9},
{"date":"2014-11-17","p29":-4.6,"p35a":-4.6},
{"date":"2014-11-19","p29":-13.7,"p35a":-13.7},
{"date":"2014-11-21","p29":-5.2,"p35a":-5.2},
{"date":"2014-11-24","p29":-6.6,"p35a":-6.6},
{"date":"2014-11-26","p29":-13.7,"p35a":-13.7},
{"date":"2014-11-28","p29":-17.7,"p35a":-17.7},
{"date":"2014-12-01","p29":-7.6,"p35a":-7.6},
{"date":"2014-12-03","p29":-15.0,"p35a":-15.0},
{"date":"2014-12-05","p29":-11.0,"p35a":-11.0},
{"date":"2014-12-07","p29":-1.7,"p35a":-1.7},
{"date":"2014-12-08","p29":-23.8,"p35a":-23.8},
{"date":"2014-12-10","p29":-13.4,"p35a":-13.4},
{"date":"2014-12-12","p29":-8.8,"p35a":-9.5},
{"date":"2014-12-14","p29":-13.4,"p35a":-13.4},
{"date":"2014-12-17","p29":-9.0,"p35a":-9.6},
{"date":"2014-12-19","p29":-10.6,"p35a":-10.6},
{"date":"2014-12-21","p29":-14.0,"p35a":-14.0},
{"date":"2014-12-23","p29":-9.3,"p35a":-10.0},
{"date":"2014-12-26","p29":-12.7,"p35a":-12.7},
{"date":"2014-12-28","p29":-11.5,"p35a":-13.7},
{"date":"2014-12-30","p29":-12.8,"p35a":-13.5},
{"date":"2014-12-31","p29":-11.5,"p35a":-12.8}
]},
"encoding":{
"x":{"field":"date","type":"temporal",
"scale":{"type":"utc","domain":[{"year":2009,"month":1,"date":1,"utc":true},{"year":2014,"month":12,"date":31,"utc":true}],"nice":false},
"axis":{"values":[{"year":2009,"month":1,"date":1,"utc":true},{"year":2010,"month":1,"date":1,"utc":true},{"year":2011,"month":1,"date":1,"utc":true},{"year":2012,"month":1,"date":1,"utc":true},{"year":2012,"month":12,"date":31,"utc":true},{"year":2013,"month":12,"date":31,"utc":true},{"year":2014,"month":12,"date":31,"utc":true}],
"format":"%m/%d/%Y","labelPadding":28,"grid":true,"title":"mm/dd/yyyy","titleX":679.5,"titleY":96,"titleAlign":"center","titleBaseline":"alphabetic"}}
},
"layer":[
{"mark":{"type":"line","strokeWidth":3.3,"strokeJoin":"round","strokeCap":"round"},
"encoding":{
"y":{"field":"p29","type":"quantitative","scale":{"domain":[-30,30],"nice":false},
"axis":{"values":[-30,-20,-10,0,10,20,30],"labelExpr":"'' + datum.value","labelPadding":31,"grid":true,"title":"% Discharge","titleX":-134,"titleY":517,"titleAngle":270,"titleAlign":"center","titleBaseline":"middle"}},
"color":{"datum":"% Peace 29","type":"nominal","scale":{"domain":["% Peace 29","% Peace 35a"],"range":["#000000","#0000C0"]},
"legend":{"title":null,"orient":"none","legendX":-89,"legendY":1020,"direction":"horizontal","columns":2,"symbolType":"stroke","symbolSize":2809,"symbolStrokeWidth":3,"labelOffset":3,"columnPadding":74,"padding":0,"labelLimit":0}}}},
{"mark":{"type":"line","strokeWidth":3.3,"strokeJoin":"round","strokeCap":"round"},
"encoding":{
"y":{"field":"p35a","type":"quantitative","scale":{"domain":[-30,30],"nice":false},
"axis":{"values":[-30,-20,-10,0,10,20,30],"labelExpr":"'' + datum.value","labelPadding":31,"grid":true,"title":"% Discharge","titleX":-134,"titleY":517,"titleAngle":270,"titleAlign":"center","titleBaseline":"middle"}},
"color":{"datum":"% Peace 35a","type":"nominal","scale":{"domain":["% Peace 29","% Peace 35a"],"range":["#000000","#0000C0"]},
"legend":{"title":null,"orient":"none","legendX":-89,"legendY":1020,"direction":"horizontal","columns":2,"symbolType":"stroke","symbolSize":2809,"symbolStrokeWidth":3,"labelOffset":3,"columnPadding":74,"padding":0,"labelLimit":0}}}}
]
}
